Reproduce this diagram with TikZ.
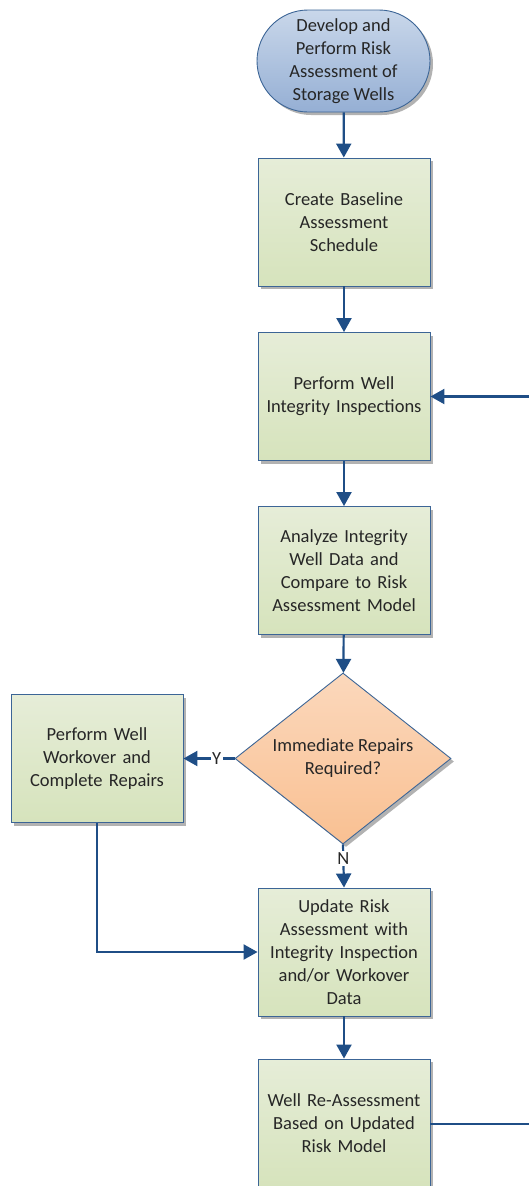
\documentclass[tikz,border=0pt]{standalone}
\usepackage{fontspec}
\setmainfont{Carlito}
\usetikzlibrary{arrows.meta,shapes.geometric,shapes.misc,shadows,positioning}
\definecolor{edgeblue}{HTML}{1F4E86}
\definecolor{bordblue}{HTML}{3C6596}
\definecolor{gtop}{HTML}{E6EDD8}
\definecolor{gbot}{HTML}{D6E3BC}
\definecolor{otop}{HTML}{FBD8BC}
\definecolor{obot}{HTML}{F9C092}
\definecolor{btop}{HTML}{C9D7EA}
\definecolor{bbot}{HTML}{95AFD4}
\definecolor{txt}{HTML}{262626}
\tikzset{
  shadowed/.style={drop shadow={shadow xshift=3pt,shadow yshift=-3pt,fill=black!30,opacity=1}},
  procbox/.style={rectangle,draw=bordblue,line width=0.9pt,top color=gtop,bottom color=gbot,
    minimum width=172pt,minimum height=128pt,align=center,text width=168pt,shadowed,
    font=\fontsize{18.5}{23}\selectfont,text=txt,inner sep=1pt},
  termbox/.style={rounded rectangle,draw=bordblue,line width=0.9pt,top color=btop,bottom color=bbot,
    minimum width=173pt,minimum height=102pt,align=center,shadowed,
    font=\fontsize{18.5}{23}\selectfont,text=txt,inner sep=0pt},
  decbox/.style={diamond,draw=bordblue,line width=0.9pt,top color=otop,bottom color=obot,
    minimum width=216pt,minimum height=171pt,aspect=1.263,align=center,shadowed,
    font=\fontsize{18.5}{23}\selectfont,text=txt,inner sep=0pt},
  conn/.style={draw=edgeblue,line width=2.2pt,-{Triangle[length=14pt,width=15pt]}},
  plainconn/.style={draw=edgeblue,line width=2.2pt},
  lbl/.style={fill=white,inner sep=1.5pt,font=\fontsize{18.5}{20}\selectfont,text=txt}
}
\begin{document}
\begin{tikzpicture}[x=1pt,y=-1pt]
\useasboundingbox (0,0) rectangle (529,1186);
\node[termbox] (start) at (343.5,61) {Develop and\\Perform Risk\\Assessment of\\Storage Wells};
\node[procbox] (base) at (344,222) {Create Baseline\\Assessment\\Schedule};
\node[procbox] (insp) at (344,396.5) {Perform Well\\Integrity Inspections};
\node[procbox] (anal) at (344,570.5) {Analyze Integrity\\Well Data and\\Compare to Risk\\Assessment Model};
\node[decbox] (dec) at (343,758.5) {Immediate Repairs\\Required?};
\node[procbox] (work) at (97,758.5) {Perform Well\\Workover and\\Complete Repairs};
\node[procbox] (upd) at (344,952) {Update Risk\\Assessment with\\Integrity Inspection\\and/or Workover\\Data};
\node[procbox] (reas) at (344,1123) {Well Re-Assessment\\Based on Updated\\Risk Model};
\coordinate (rin) at (529,396.5);
\coordinate (rout) at (529,1124);
\coordinate (wcorner) at (97,952);
\draw[conn] (start) -- (base);
\draw[conn] (base) -- (insp);
\draw[conn] (insp) -- (anal);
\draw[conn] (anal) -- (dec);
\draw[conn] (dec.west) -- node[lbl,pos=0.35] {Y} (work.east);
\draw[conn] (dec.south) -- node[lbl,pos=0.32] {N} (upd.north);
\draw[conn] (work.south) -- (wcorner) -- (upd.west);
\draw[conn] (upd) -- (reas);
\draw[plainconn] (reas.east |- rout) -- (rout);
\draw[conn] (rin) -- (insp.east);
\end{tikzpicture}
\end{document}
